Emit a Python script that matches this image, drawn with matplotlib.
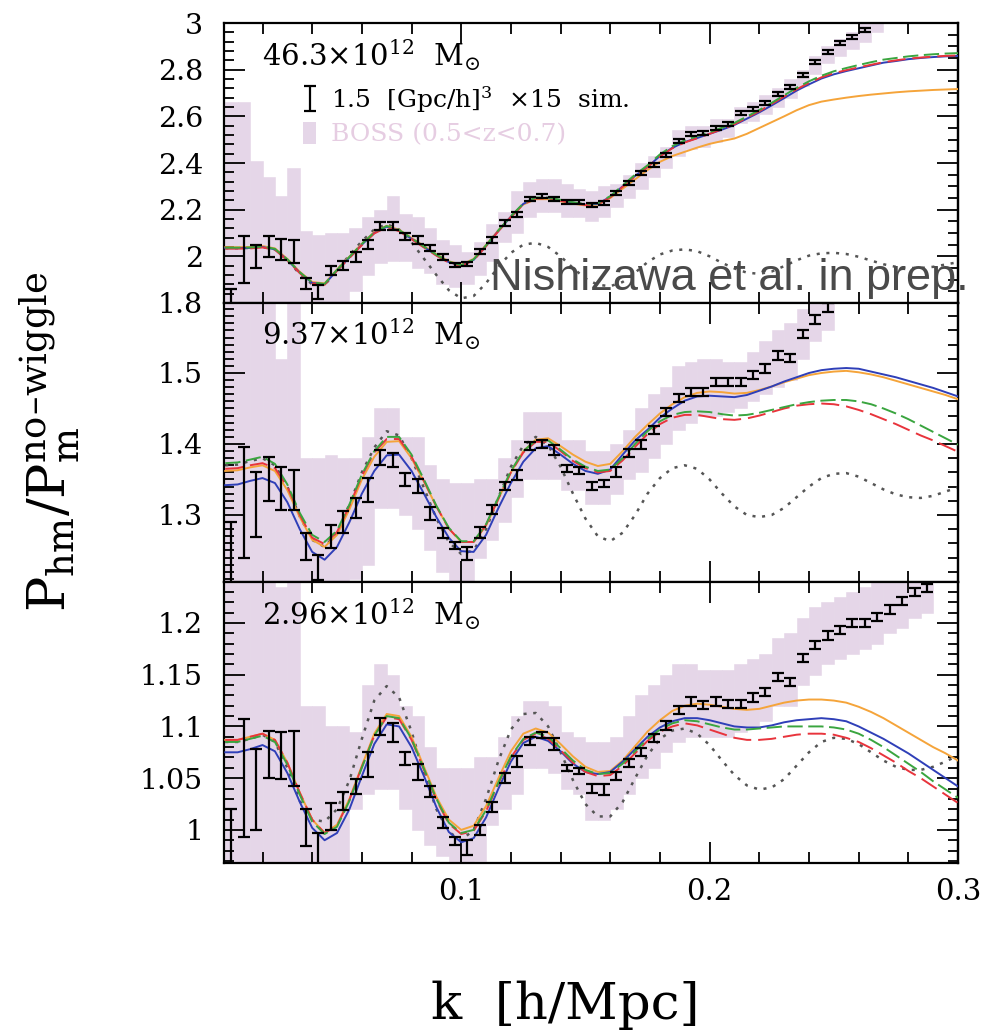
import matplotlib
matplotlib.use('Agg')
import matplotlib.pyplot as plt
from matplotlib.ticker import MultipleLocator, FixedLocator
from matplotlib.patches import Patch
from matplotlib import font_manager

plt.rcParams['font.family'] = ['DejaVu Serif']
plt.rcParams['mathtext.fontset'] = 'dejavuserif'
plt.rcParams['lines.scale_dashes'] = False

# ---------------- data ----------------
K_BINS = [0.0075, 0.0125, 0.0175, 0.0225, 0.0275, 0.0325, 0.0375, 0.0425, 0.0475, 0.0525,
          0.0575, 0.0625, 0.0675, 0.0725, 0.0775, 0.0825, 0.0875, 0.0925, 0.0975, 0.1025,
          0.1075, 0.1125, 0.1175, 0.1225, 0.1275, 0.1325, 0.1375, 0.1425, 0.1475, 0.1525,
          0.1575, 0.1625, 0.1675, 0.1725, 0.1775, 0.1825, 0.1875, 0.1925, 0.1975, 0.2025,
          0.2075, 0.2125, 0.2175, 0.2225, 0.2275, 0.2325, 0.2375, 0.2425, 0.2475, 0.2525,
          0.2575, 0.2625, 0.2675, 0.2725, 0.2775, 0.2825, 0.2875, 0.2925, 0.2975]
K_LINE = [0.005, 0.010, 0.015, 0.020, 0.025, 0.030, 0.035, 0.040, 0.045, 0.050,
          0.055, 0.060, 0.065, 0.070, 0.075, 0.080, 0.085, 0.090, 0.095, 0.100,
          0.105, 0.110, 0.115, 0.120, 0.125, 0.130, 0.135, 0.140, 0.145, 0.150,
          0.155, 0.160, 0.165, 0.170, 0.175, 0.180, 0.185, 0.190, 0.195, 0.200,
          0.205, 0.210, 0.215, 0.220, 0.225, 0.230, 0.235, 0.240, 0.245, 0.250,
          0.255, 0.260, 0.265, 0.270, 0.275, 0.280, 0.285, 0.290, 0.295, 0.300]

PANEL_LABELS = [r'46.3$\times$10$^{12}$  M$_{\odot}$',
                r'9.37$\times$10$^{12}$  M$_{\odot}$',
                r'2.96$\times$10$^{12}$  M$_{\odot}$']

# --- top panel (46.3e12) ---
sim_top = [1.80, 1.985, 2.00, 2.04, 2.03, 2.02, 1.884, 1.847, 1.94, 1.96,
           1.997, 2.05, 2.13, 2.13, 2.083, 2.07, 2.036, 1.997, 1.963, 1.967,
           2.02, 2.07, 2.143, 2.18, 2.246, 2.259, 2.246, 2.233, 2.233, 2.22,
           2.229, 2.27, 2.314, 2.357, 2.39, 2.434, 2.494, 2.524, 2.53, 2.55,
           2.567, 2.614, 2.63, 2.657, 2.695, 2.726, 2.777, 2.833, 2.876, 2.914,
           2.94, 2.97]
err_top = [0.06, 0.10, 0.05, 0.045, 0.045, 0.05, 0.025, 0.03, 0.02, 0.02,
           0.02, 0.02, 0.018, 0.018, 0.015, 0.015, 0.014, 0.014, 0.01, 0.01,
           0.012, 0.012, 0.012, 0.01, 0.01, 0.01, 0.01, 0.008, 0.008, 0.008,
           0.008, 0.008, 0.008, 0.008, 0.008, 0.008, 0.008, 0.008, 0.008, 0.008,
           0.008, 0.008, 0.008, 0.008, 0.008, 0.008, 0.008, 0.008, 0.008, 0.008,
           0.008, 0.008]
boss_top_hi = [2.66, 2.66, 2.41, 2.34, 2.26, 2.38, 2.11, 2.09, 2.10, 2.10,
               2.12, 2.17, 2.20, 2.26, 2.18, 2.17, 2.12, 2.07, 2.05, 2.02,
               2.06, 2.14, 2.19, 2.28, 2.32, 2.33, 2.33, 2.31, 2.29, 2.28,
               2.30, 2.31, 2.35, 2.40, 2.43, 2.47, 2.54, 2.56, 2.56, 2.59,
               2.59, 2.64, 2.66, 2.69, 2.72, 2.76, 2.80, 2.86, 2.90, 2.93,
               2.96, 3.00, 3.05]
boss_top_lo = [1.6, 1.6, 1.6, 1.6, 1.6, 1.6, 1.6, 1.6, 1.70, 1.75,
               1.85, 1.92, 1.97, 1.98, 1.98, 1.95, 1.93, 1.88, 1.87, 1.88,
               1.92, 1.98, 2.06, 2.10, 2.17, 2.19, 2.19, 2.17, 2.17, 2.15,
               2.17, 2.21, 2.25, 2.29, 2.34, 2.38, 2.43, 2.46, 2.47, 2.49,
               2.51, 2.57, 2.58, 2.61, 2.64, 2.68, 2.73, 2.78, 2.83, 2.86,
               2.89, 2.92, 2.96]
blue_top = [2.035, 2.035, 2.036, 2.040, 2.030, 1.985, 1.930, 1.886, 1.880, 1.940,
            1.995, 2.050, 2.100, 2.127, 2.110, 2.075, 2.040, 2.005, 1.975, 1.960,
            1.985, 2.045, 2.110, 2.170, 2.225, 2.250, 2.250, 2.240, 2.230, 2.222,
            2.225, 2.255, 2.300, 2.345, 2.383, 2.430, 2.465, 2.490, 2.507, 2.525,
            2.543, 2.563, 2.590, 2.617, 2.647, 2.678, 2.710, 2.737, 2.762, 2.780,
            2.794, 2.806, 2.818, 2.830, 2.837, 2.845, 2.850, 2.854, 2.857, 2.859]
orange_top = [2.039, 2.039, 2.040, 2.044, 2.034, 1.989, 1.934, 1.890, 1.884, 1.944,
              1.999, 2.054, 2.104, 2.131, 2.114, 2.079, 2.044, 2.009, 1.979, 1.964,
              1.989, 2.049, 2.112, 2.170, 2.222, 2.245, 2.245, 2.236, 2.226, 2.218,
              2.222, 2.250, 2.290, 2.330, 2.370, 2.405, 2.430, 2.448, 2.466, 2.482,
              2.494, 2.505, 2.525, 2.550, 2.575, 2.600, 2.626, 2.648, 2.663, 2.672,
              2.680, 2.687, 2.693, 2.698, 2.703, 2.707, 2.710, 2.713, 2.715, 2.717]
green_top = [2.037, 2.037, 2.038, 2.042, 2.032, 1.987, 1.932, 1.888, 1.882, 1.942,
             1.998, 2.053, 2.103, 2.130, 2.113, 2.078, 2.042, 2.007, 1.977, 1.962,
             1.987, 2.047, 2.112, 2.172, 2.227, 2.252, 2.252, 2.242, 2.232, 2.224,
             2.228, 2.258, 2.304, 2.350, 2.390, 2.437, 2.472, 2.497, 2.515, 2.532,
             2.551, 2.572, 2.599, 2.627, 2.658, 2.690, 2.722, 2.750, 2.774, 2.793,
             2.807, 2.820, 2.832, 2.843, 2.850, 2.857, 2.862, 2.866, 2.869, 2.871]
red_top = [2.033, 2.033, 2.034, 2.038, 2.028, 1.983, 1.928, 1.884, 1.878, 1.938,
           1.993, 2.048, 2.098, 2.125, 2.108, 2.073, 2.038, 2.003, 1.973, 1.958,
           1.983, 2.043, 2.108, 2.168, 2.223, 2.248, 2.248, 2.238, 2.228, 2.220,
           2.223, 2.253, 2.298, 2.343, 2.382, 2.428, 2.463, 2.488, 2.506, 2.525,
           2.545, 2.566, 2.594, 2.622, 2.653, 2.685, 2.716, 2.743, 2.767, 2.785,
           2.798, 2.810, 2.821, 2.832, 2.840, 2.847, 2.852, 2.856, 2.859, 2.861]
dot_top = [2.035, 2.035, 2.036, 2.040, 2.030, 1.983, 1.925, 1.880, 1.877, 1.940,
           2.005, 2.065, 2.115, 2.138, 2.115, 2.060, 1.990, 1.920, 1.855, 1.820,
           1.830, 1.885, 1.955, 2.015, 2.050, 2.058, 2.040, 2.000, 1.950, 1.905,
           1.878, 1.872, 1.890, 1.930, 1.975, 2.008, 2.025, 2.030, 2.022, 2.000,
           1.972, 1.948, 1.930, 1.925, 1.935, 1.958, 1.983, 2.003, 2.013, 2.015,
           2.010, 1.998, 1.982, 1.966, 1.955, 1.950, 1.950, 1.955, 1.965, 1.975]

# --- middle panel (9.37e12) ---
sim_mid = [1.24, 1.318, 1.315, 1.351, 1.337, 1.335, 1.256, 1.226, 1.27, 1.29,
           1.31, 1.335, 1.381, 1.378, 1.35, 1.341, 1.302, 1.275, 1.257, 1.246,
           1.275, 1.308, 1.341, 1.356, 1.397, 1.40, 1.392, 1.366, 1.363, 1.341,
           1.344, 1.36, 1.387, 1.399, 1.42, 1.445, 1.465, 1.473, 1.473, 1.487,
           1.487, 1.487, 1.497, 1.506, 1.525, 1.521, 1.555, 1.575, 1.592]
err_mid = [0.05, 0.078, 0.046, 0.031, 0.03, 0.028, 0.019, 0.018, 0.016, 0.015,
           0.014, 0.017, 0.011, 0.01, 0.009, 0.01, 0.009, 0.007, 0.005, 0.009,
           0.008, 0.006, 0.006, 0.007, 0.006, 0.005, 0.007, 0.005, 0.005, 0.006,
           0.005, 0.007, 0.006, 0.006, 0.006, 0.006, 0.006, 0.006, 0.006, 0.006,
           0.006, 0.006, 0.006, 0.006, 0.006, 0.006, 0.006, 0.006, 0.006]
boss_mid_hi = [1.65, 1.65, 1.65, 1.65, 1.52, 1.65, 1.38, 1.38, 1.385, 1.38,
               1.38, 1.41, 1.45, 1.45, 1.41, 1.41, 1.37, 1.35, 1.345, 1.345,
               1.35, 1.35, 1.38, 1.405, 1.445, 1.445, 1.445, 1.405, 1.405, 1.39,
               1.39, 1.40, 1.42, 1.45, 1.47, 1.48, 1.51, 1.515, 1.52, 1.52,
               1.515, 1.515, 1.53, 1.545, 1.56, 1.57, 1.59, 1.62, 1.64]
boss_mid_lo = [1.15, 1.15, 1.15, 1.15, 1.15, 1.15, 1.15, 1.15, 1.17, 1.2,
               1.21, 1.23, 1.31, 1.31, 1.30, 1.28, 1.25, 1.22, 1.20, 1.20,
               1.24, 1.265, 1.29, 1.325, 1.35, 1.35, 1.35, 1.335, 1.335, 1.315,
               1.315, 1.33, 1.35, 1.36, 1.38, 1.40, 1.42, 1.43, 1.44, 1.44,
               1.445, 1.45, 1.46, 1.47, 1.48, 1.49, 1.52, 1.545, 1.56]
blue_mid = [1.342, 1.343, 1.348, 1.352, 1.345, 1.318, 1.280, 1.248, 1.237, 1.255,
            1.290, 1.330, 1.362, 1.384, 1.385, 1.362, 1.330, 1.297, 1.268, 1.249,
            1.248, 1.272, 1.310, 1.345, 1.375, 1.394, 1.397, 1.385, 1.372, 1.362,
            1.358, 1.364, 1.385, 1.405, 1.420, 1.437, 1.450, 1.461, 1.467, 1.468,
            1.467, 1.466, 1.469, 1.475, 1.481, 1.488, 1.494, 1.500, 1.504, 1.506,
            1.507, 1.506, 1.502, 1.498, 1.494, 1.489, 1.484, 1.479, 1.473, 1.467]
orange_mid = [1.362, 1.363, 1.367, 1.370, 1.362, 1.335, 1.297, 1.265, 1.255, 1.272,
              1.308, 1.350, 1.382, 1.403, 1.404, 1.380, 1.347, 1.312, 1.281, 1.262,
              1.262, 1.285, 1.323, 1.360, 1.390, 1.406, 1.408, 1.397, 1.385, 1.375,
              1.369, 1.372, 1.390, 1.410, 1.427, 1.443, 1.456, 1.466, 1.472, 1.474,
              1.473, 1.471, 1.472, 1.476, 1.481, 1.487, 1.492, 1.497, 1.500, 1.502,
              1.503, 1.501, 1.498, 1.494, 1.489, 1.484, 1.479, 1.474, 1.469, 1.463]
green_mid = [1.373, 1.374, 1.378, 1.382, 1.372, 1.343, 1.303, 1.272, 1.262, 1.278,
             1.315, 1.357, 1.390, 1.410, 1.410, 1.385, 1.350, 1.313, 1.282, 1.263,
             1.263, 1.287, 1.325, 1.362, 1.390, 1.405, 1.405, 1.392, 1.378, 1.368,
             1.362, 1.364, 1.380, 1.400, 1.418, 1.432, 1.441, 1.445, 1.446, 1.445,
             1.442, 1.440, 1.441, 1.444, 1.448, 1.452, 1.456, 1.459, 1.461, 1.462,
             1.462, 1.460, 1.456, 1.450, 1.443, 1.435, 1.426, 1.417, 1.408, 1.399]
red_mid = [1.365, 1.366, 1.370, 1.373, 1.366, 1.340, 1.300, 1.268, 1.259, 1.276,
           1.313, 1.355, 1.388, 1.407, 1.407, 1.382, 1.348, 1.312, 1.281, 1.262,
           1.262, 1.286, 1.323, 1.360, 1.388, 1.403, 1.403, 1.390, 1.376, 1.366,
           1.360, 1.362, 1.377, 1.396, 1.414, 1.428, 1.437, 1.441, 1.441, 1.438,
           1.435, 1.434, 1.436, 1.440, 1.445, 1.450, 1.454, 1.456, 1.457, 1.456,
           1.453, 1.448, 1.442, 1.435, 1.428, 1.420, 1.412, 1.405, 1.397, 1.389]
dot_mid = [1.370, 1.371, 1.376, 1.380, 1.370, 1.340, 1.298, 1.265, 1.255, 1.275,
           1.315, 1.360, 1.395, 1.418, 1.412, 1.380, 1.338, 1.295, 1.262, 1.245,
           1.250, 1.280, 1.325, 1.368, 1.398, 1.410, 1.398, 1.368, 1.330, 1.295,
           1.270, 1.263, 1.275, 1.300, 1.330, 1.352, 1.366, 1.370, 1.365, 1.350,
           1.330, 1.312, 1.300, 1.297, 1.300, 1.310, 1.325, 1.340, 1.352, 1.358,
           1.359, 1.354, 1.345, 1.336, 1.329, 1.325, 1.324, 1.327, 1.333, 1.339]

# --- bottom panel (2.96e12) ---
sim_bot = [0.99, 1.05, 1.039, 1.073, 1.072, 1.069, 1.002, 0.98, 1.013, 1.028,
           1.042, 1.063, 1.10, 1.094, 1.069, 1.056, 1.037, 1.007, 0.989, 0.983,
           1.0, 1.022, 1.05, 1.066, 1.086, 1.092, 1.083, 1.06, 1.057, 1.04,
           1.039, 1.052, 1.065, 1.075, 1.089, 1.101, 1.116, 1.124, 1.121, 1.124,
           1.122, 1.122, 1.128, 1.133, 1.148, 1.143, 1.166, 1.179, 1.188, 1.193,
           1.2, 1.2, 1.206, 1.213, 1.221, 1.23, 1.234]
err_bot = [0.03, 0.057, 0.039, 0.023, 0.023, 0.027, 0.018, 0.017, 0.013, 0.009,
           0.007, 0.012, 0.008, 0.009, 0.006, 0.008, 0.005, 0.005, 0.004, 0.007,
           0.005, 0.005, 0.005, 0.005, 0.004, 0.003, 0.006, 0.003, 0.003, 0.004,
           0.005, 0.004, 0.004, 0.004, 0.004, 0.004, 0.004, 0.004, 0.004, 0.004,
           0.004, 0.004, 0.004, 0.004, 0.004, 0.004, 0.004, 0.004, 0.004, 0.004,
           0.004, 0.004, 0.004, 0.004, 0.004, 0.004, 0.004]
boss_bot_hi = [1.3, 1.3, 1.3, 1.3, 1.235, 1.3, 1.12, 1.12, 1.10, 1.10,
               1.095, 1.14, 1.16, 1.15, 1.12, 1.11, 1.08, 1.06, 1.06, 1.06,
               1.07, 1.07, 1.09, 1.11, 1.125, 1.125, 1.12, 1.095, 1.09, 1.085,
               1.085, 1.09, 1.11, 1.13, 1.14, 1.15, 1.16, 1.16, 1.155, 1.155,
               1.155, 1.16, 1.165, 1.17, 1.185, 1.19, 1.205, 1.215, 1.22, 1.225,
               1.23, 1.235, 1.24, 1.245, 1.25, 1.26, 1.26]
boss_bot_lo = [0.9, 0.9, 0.9, 0.9, 0.9, 0.9, 0.9, 0.9, 0.9, 0.95,
               1.02, 1.035, 1.04, 1.04, 1.02, 1.0, 0.985, 0.975, 0.96, 0.96,
               0.97, 1.005, 1.02, 1.035, 1.06, 1.06, 1.055, 1.04, 1.035, 1.01,
               1.01, 1.02, 1.035, 1.05, 1.06, 1.075, 1.085, 1.09, 1.09, 1.09,
               1.09, 1.095, 1.10, 1.105, 1.12, 1.12, 1.14, 1.15, 1.16, 1.165,
               1.17, 1.175, 1.18, 1.19, 1.195, 1.205, 1.21]
blue_bot = [1.075, 1.075, 1.078, 1.082, 1.076, 1.055, 1.027, 1.002, 0.990, 0.997,
            1.020, 1.052, 1.083, 1.102, 1.100, 1.080, 1.052, 1.022, 0.998, 0.988,
            0.992, 1.012, 1.040, 1.066, 1.084, 1.090, 1.086, 1.076, 1.064, 1.056,
            1.054, 1.056, 1.066, 1.078, 1.090, 1.099, 1.105, 1.108, 1.108, 1.106,
            1.103, 1.100, 1.099, 1.099, 1.101, 1.104, 1.106, 1.107, 1.108, 1.107,
            1.105, 1.100, 1.094, 1.088, 1.081, 1.074, 1.066, 1.058, 1.050, 1.042]
orange_bot = [1.087, 1.087, 1.090, 1.093, 1.087, 1.065, 1.036, 1.010, 0.997, 1.005,
              1.030, 1.062, 1.093, 1.112, 1.110, 1.090, 1.061, 1.032, 1.010, 1.000,
              1.004, 1.023, 1.050, 1.076, 1.093, 1.098, 1.094, 1.083, 1.071, 1.061,
              1.056, 1.057, 1.067, 1.081, 1.095, 1.106, 1.115, 1.120, 1.122, 1.121,
              1.119, 1.117, 1.116, 1.117, 1.120, 1.123, 1.125, 1.126, 1.126, 1.125,
              1.123, 1.119, 1.114, 1.108, 1.101, 1.094, 1.087, 1.080, 1.074, 1.067]
green_bot = [1.085, 1.085, 1.088, 1.091, 1.085, 1.063, 1.034, 1.008, 0.996, 1.003,
             1.028, 1.060, 1.091, 1.110, 1.108, 1.088, 1.059, 1.030, 1.007, 0.997,
             1.000, 1.019, 1.046, 1.071, 1.088, 1.094, 1.090, 1.079, 1.067, 1.058,
             1.054, 1.055, 1.064, 1.076, 1.088, 1.097, 1.103, 1.106, 1.105, 1.102,
             1.099, 1.097, 1.097, 1.098, 1.099, 1.100, 1.100, 1.100, 1.100, 1.099,
             1.097, 1.093, 1.087, 1.080, 1.072, 1.064, 1.056, 1.047, 1.039, 1.031]
red_bot = [1.087, 1.087, 1.090, 1.093, 1.087, 1.065, 1.036, 1.010, 0.997, 1.004,
           1.029, 1.061, 1.091, 1.109, 1.107, 1.087, 1.058, 1.029, 1.006, 0.996,
           0.999, 1.018, 1.045, 1.070, 1.087, 1.093, 1.088, 1.077, 1.065, 1.056,
           1.052, 1.053, 1.062, 1.074, 1.086, 1.095, 1.100, 1.103, 1.101, 1.097,
           1.093, 1.089, 1.087, 1.087, 1.088, 1.090, 1.092, 1.093, 1.093, 1.092,
           1.089, 1.085, 1.079, 1.072, 1.065, 1.057, 1.050, 1.042, 1.034, 1.026]
dot_bot = [1.085, 1.085, 1.088, 1.092, 1.085, 1.060, 1.028, 1.010, 1.008, 1.020,
           1.048, 1.088, 1.125, 1.139, 1.128, 1.095, 1.055, 1.020, 0.998, 0.990,
           1.000, 1.030, 1.067, 1.097, 1.112, 1.113, 1.100, 1.075, 1.048, 1.025,
           1.013, 1.013, 1.027, 1.050, 1.072, 1.088, 1.096, 1.098, 1.093, 1.082,
           1.067, 1.053, 1.043, 1.039, 1.041, 1.049, 1.062, 1.075, 1.085, 1.089,
           1.088, 1.083, 1.075, 1.067, 1.061, 1.058, 1.058, 1.061, 1.066, 1.072]

# tick definitions
Y_TICKS = [[1.8, 2.0, 2.2, 2.4, 2.6, 2.8, 3.0], [1.3, 1.4, 1.5], [1.0, 1.05, 1.1, 1.15, 1.2]]
Y_TICKLABELS = [['1.8', '2', '2.2', '2.4', '2.6', '2.8', '3'], ['1.3', '1.4', '1.5'],
                ['1', '1.05', '1.1', '1.15', '1.2']]
Y_LIMS = [(1.8, 3.0), (1.2056, 1.5986), (0.968, 1.2396)]
MINOR_LEFT = [0.04, 0.01, 0.01]
MINOR_RIGHT = [0.05, 0.02, 0.01]
X_TICKS = [0.1, 0.2, 0.3]
X_TICKLABELS = ['0.1', '0.2', '0.3']

# ---------------- styles ----------------
BOSS_COLOR = '#e5d6e8'
BOSS_TEXT = '#e6cde2'
C_BLUE = '#2f3fb8'
C_ORANGE = '#f5a43a'
C_GREEN = '#3aa53f'
C_RED = '#e8343c'
C_DOT = '#555555'

fig = plt.figure(figsize=(9.95, 10.34), dpi=100)
L, R = 224 / 995, 958 / 995
EDGES = [23, 303, 582, 863]

panels = [
    (sim_top, err_top, boss_top_lo, boss_top_hi, blue_top, orange_top, green_top, red_top, dot_top),
    (sim_mid, err_mid, boss_mid_lo, boss_mid_hi, blue_mid, orange_mid, green_mid, red_mid, dot_mid),
    (sim_bot, err_bot, boss_bot_lo, boss_bot_hi, blue_bot, orange_bot, green_bot, red_bot, dot_bot),
]

axes = []
for j, (sim, err, blo, bhi, bl, orr, gr, rd, dt) in enumerate(panels):
    top = 1 - EDGES[j] / 1034
    bot = 1 - EDGES[j + 1] / 1034
    ax = fig.add_axes([L, bot, R - L, top - bot])
    axes.append(ax)

    kb = K_BINS[:len(bhi)]
    ax.bar(kb, [h - l for h, l in zip(bhi, blo)], bottom=blo, width=0.005,
           color=BOSS_COLOR, edgecolor=BOSS_COLOR, linewidth=0.4, zorder=1)
    ax.plot(K_LINE[:len(dt)], dt, color=C_DOT, lw=1.8, dashes=(2.2, 4.8), zorder=2)
    ax.plot(K_LINE[:len(orr)], orr, color=C_ORANGE, lw=1.4, zorder=3)
    ax.plot(K_LINE[:len(bl)], bl, color=C_BLUE, lw=1.4, zorder=3)
    ax.plot(K_LINE[:len(rd)], rd, color=C_RED, lw=1.4, dashes=(13, 5), zorder=3)
    ax.plot(K_LINE[:len(gr)], gr, color=C_GREEN, lw=1.4, dashes=(11, 4), zorder=3)
    eb = ax.errorbar(K_BINS[:len(sim)], sim, yerr=err, fmt='none', ecolor='black',
                     elinewidth=1.6, capsize=4.5, capthick=1.6, zorder=5)

    ax.set_xlim(0.0045, 0.3)
    ax.set_ylim(*Y_LIMS[j])
    ax.xaxis.set_major_locator(FixedLocator(X_TICKS))
    ax.xaxis.set_minor_locator(MultipleLocator(0.02))
    ax.set_yticks(Y_TICKS[j])
    ax.set_yticklabels(Y_TICKLABELS[j])
    ax.yaxis.set_minor_locator(MultipleLocator(MINOR_LEFT[j]))
    if j == 2:
        ax.set_xticklabels(X_TICKLABELS)
    ax.tick_params(axis='x', which='major', direction='in', top=True, bottom=True,
                   length=15, width=1.3, labelsize=21, pad=11, labelbottom=(j == 2))
    ax.tick_params(axis='x', which='minor', direction='in', top=True, bottom=True,
                   length=8, width=1.3)
    ax.tick_params(axis='y', which='major', direction='in', left=True, right=False,
                   length=15, width=1.3, labelsize=20.5, pad=15)
    ax.tick_params(axis='y', which='minor', direction='in', left=True, right=False,
                   length=7.5, width=1.3)
    for sp in ax.spines.values():
        sp.set_linewidth(1.6)

    sec = ax.secondary_yaxis('right')
    sec.set_yticks(Y_TICKS[j])
    sec.yaxis.set_minor_locator(MultipleLocator(MINOR_RIGHT[j]))
    sec.tick_params(axis='y', which='major', direction='in', length=15, width=1.3,
                    labelright=False)
    sec.tick_params(axis='y', which='minor', direction='in', length=7.5, width=1.3)
    sec.spines['right'].set_linewidth(1.6)

    ax.text(0.052, 0.847, PANEL_LABELS[j], transform=ax.transAxes, fontsize=21,
            va='baseline', ha='left', zorder=6)

    if j == 0:
        leg = ax.legend(handles=[eb, Patch(facecolor=BOSS_COLOR, edgecolor='none')],
                        labels=[r'1.5  [Gpc/h]$^3$  $\times$15  sim.', 'BOSS (0.5<z<0.7)'],
                        loc='upper left', bbox_to_anchor=(0.108, 0.78), frameon=False,
                        fontsize=18, handlelength=0.5, handleheight=1.0,
                        handletextpad=0.6, labelspacing=0.25, borderpad=0, borderaxespad=0)
        leg.get_texts()[1].set_color(BOSS_TEXT)
        leg.set_zorder(7)

names = {f.name for f in font_manager.fontManager.ttflist}
if 'Liberation Sans Narrow' in names:
    nfam, nsize = 'Liberation Sans Narrow', 39
else:
    nfam, nsize = 'Liberation Sans', 32.5
fig.text(490 / 995, 1 - 290 / 1034, 'Nishizawa et al. in prep.', fontsize=nsize,
         family=nfam, color='#4a4a4a', ha='left', va='baseline', zorder=10)

fig.text(0.05, 0.573, r'$\mathrm{P_{hm}/P_m^{no}}$' + r'$^{\mathrm{–wiggle}}$', rotation=90,
         fontsize=38, ha='center', va='center')
fig.text(0.568, 0.028, 'k  [h/Mpc]', fontsize=37, ha='center', va='center')

fig.savefig('out.png', dpi=100)
